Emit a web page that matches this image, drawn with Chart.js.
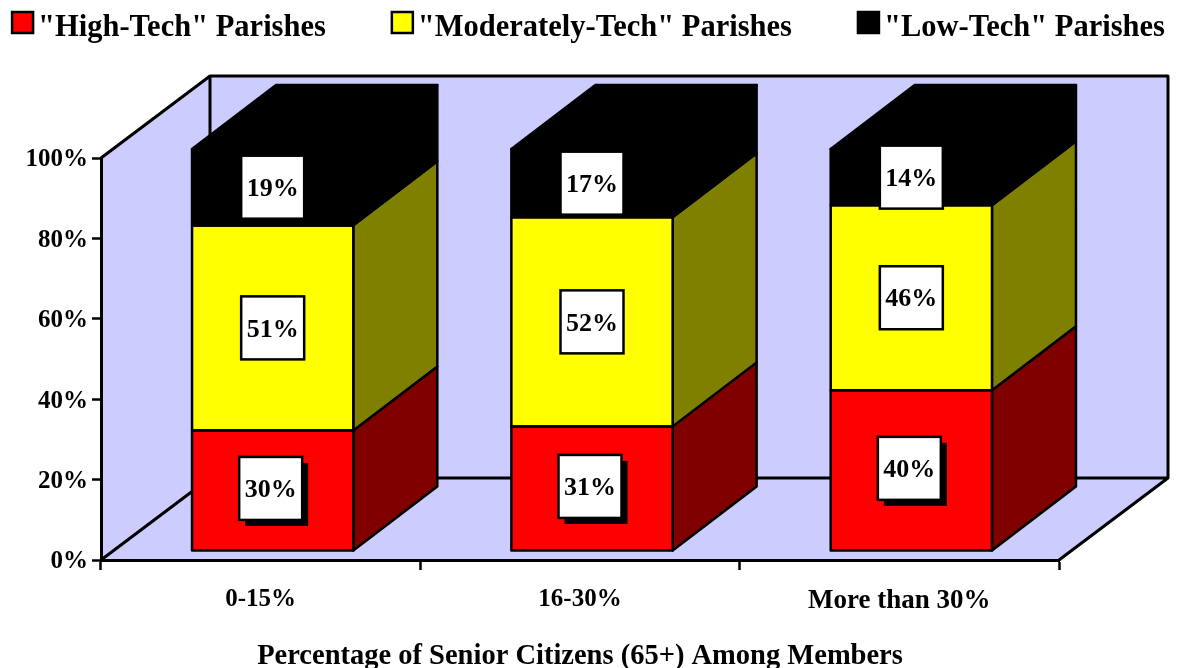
<!DOCTYPE html>
<html>
<head>
<meta charset="utf-8">
<style>html,body{margin:0;padding:0;background:#fff}#wrap{width:1177px;height:668px}</style>
<script src="https://cdn.jsdelivr.net/npm/chart.js@4"></script>
</head>
<body>
<div id="wrap"><canvas id="c" width="1177" height="668"></canvas></div>
<script>
const categories = ['0-15%', '16-30%', 'More than 30%'];
const highTech = [30, 31, 40];
const moderatelyTech = [51, 52, 46];
const lowTech = [19, 17, 14];
const seriesNames = ['"High-Tech" Parishes', '"Moderately-Tech" Parishes', '"Low-Tech" Parishes'];
const yTicks = [0, 20, 40, 60, 80, 100];
const xTitle = 'Percentage of Senior Citizens (65+) Among Members';

const FONT = '"Liberation Serif", serif';
const WALL = '#CCCCFF';
const WALL_DX = 109, WALL_DY = -82;      // depth of the 3D room
const BAR_DX = 84, BAR_DY = -64;         // depth of each 3D bar
const BAR_SHIFT_X = 12, BAR_SHIFT_Y = -9; // bars stand inside the floor
const sideColors = ['#800000', '#808000', '#000000'];

const roomPlugin = {
  id: 'room',
  beforeDraw(chart) {
    const { ctx, chartArea: a } = chart;
    ctx.save();
    ctx.fillStyle = WALL;
    ctx.beginPath();
    ctx.moveTo(a.left, a.top);
    ctx.lineTo(a.left + WALL_DX, a.top + WALL_DY);
    ctx.lineTo(a.right + WALL_DX, a.top + WALL_DY);
    ctx.lineTo(a.right + WALL_DX, a.bottom + WALL_DY);
    ctx.lineTo(a.right, a.bottom);
    ctx.lineTo(a.left, a.bottom);
    ctx.closePath();
    ctx.fill();
    ctx.strokeStyle = '#000';
    ctx.lineWidth = 3;
    ctx.lineJoin = 'round';
    ctx.beginPath();
    ctx.moveTo(a.left, a.top);
    ctx.lineTo(a.left + WALL_DX, a.top + WALL_DY);
    ctx.lineTo(a.right + WALL_DX, a.top + WALL_DY);
    ctx.lineTo(a.right + WALL_DX, a.bottom + WALL_DY);
    ctx.lineTo(a.right, a.bottom);
    ctx.moveTo(a.left + WALL_DX, a.top + WALL_DY);
    ctx.lineTo(a.left + WALL_DX, a.bottom + WALL_DY);
    ctx.lineTo(a.right + WALL_DX, a.bottom + WALL_DY);
    ctx.moveTo(a.left + WALL_DX, a.bottom + WALL_DY);
    ctx.lineTo(a.left, a.bottom);
    ctx.stroke();
    ctx.restore();
    drawLegend(chart);
  },
  beforeDatasetsDraw(chart) {
    const { ctx } = chart;
    ctx.save();
    ctx.translate(BAR_SHIFT_X, BAR_SHIFT_Y);
    ctx.strokeStyle = '#000';
    ctx.lineWidth = 2.5;
    ctx.lineJoin = 'round';
    const n = chart.data.datasets.length;
    chart.data.datasets.forEach((ds, di) => {
      chart.getDatasetMeta(di).data.forEach(el => {
        const r = el.x + el.width / 2, l = el.x - el.width / 2;
        ctx.fillStyle = sideColors[di];
        ctx.beginPath();
        ctx.moveTo(r, el.y);
        ctx.lineTo(r + BAR_DX, el.y + BAR_DY);
        ctx.lineTo(r + BAR_DX, el.base + BAR_DY);
        ctx.lineTo(r, el.base);
        ctx.closePath();
        ctx.fill();
        ctx.stroke();
        if (di === n - 1) {
          ctx.fillStyle = ds.backgroundColor;
          ctx.beginPath();
          ctx.moveTo(l, el.y);
          ctx.lineTo(l + BAR_DX, el.y + BAR_DY);
          ctx.lineTo(r + BAR_DX, el.y + BAR_DY);
          ctx.lineTo(r, el.y);
          ctx.closePath();
          ctx.fill();
          ctx.stroke();
        }
      });
    });
    // keep the translation active while the library draws the bars' front faces
  },
  afterDatasetsDraw(chart) {
    const { ctx } = chart;
    ctx.strokeStyle = '#000';
    ctx.lineWidth = 2.5;
    chart.data.datasets.forEach((ds, di) => {
      chart.getDatasetMeta(di).data.forEach(el => {
        ctx.strokeRect(el.x - el.width / 2, el.y, el.width, el.base - el.y);
      });
    });
    ctx.restore();
    ctx.save();
    ctx.translate(BAR_SHIFT_X, BAR_SHIFT_Y);
    const box = 63;
    chart.data.datasets.forEach((ds, di) => {
      chart.getDatasetMeta(di).data.forEach((el, i) => {
        const hasShadow = di === 0;
        const cx = el.x + (hasShadow ? -2 : 0), cy = (el.y + el.base) / 2 + (hasShadow ? -2 : 0);
        if (hasShadow) {
          ctx.fillStyle = '#000';
          ctx.fillRect(cx - box / 2 + 6, cy - box / 2 + 6, box, box);
        }
        ctx.fillStyle = '#fff';
        ctx.strokeStyle = '#000';
        ctx.lineWidth = 2.5;
        ctx.fillRect(cx - box / 2, cy - box / 2, box, box);
        ctx.strokeRect(cx - box / 2, cy - box / 2, box, box);
        ctx.fillStyle = '#000';
        ctx.font = 'bold 26px ' + FONT;
        ctx.textAlign = 'center';
        ctx.textBaseline = 'middle';
        ctx.fillText(ds.data[i] + '%', cx, cy + 2);
      });
    });
    ctx.restore();
  }
};

function drawLegend(chart) {
  const { ctx } = chart;
  ctx.save();
  ctx.font = 'bold 30.5px ' + FONT;
  ctx.textAlign = 'left';
  ctx.textBaseline = 'middle';
  const size = 21, gapText = 5, gapItem = 66;
  const widths = chart.data.datasets.map(d => ctx.measureText(d.label).width);
  const total = widths.reduce((s, w) => s + w + size + gapText, 0) + gapItem * (widths.length - 1);
  let x = (chart.width - total) / 2;
  const boxY = 22.5, textY = 28;
  chart.data.datasets.forEach((d, i) => {
    ctx.fillStyle = d.backgroundColor;
    ctx.strokeStyle = '#000';
    ctx.lineWidth = 2.5;
    ctx.fillRect(x, boxY - size / 2, size, size);
    ctx.strokeRect(x, boxY - size / 2, size, size);
    ctx.fillStyle = '#000';
    ctx.fillText(d.label, x + size + gapText, textY);
    x += size + gapText + widths[i] + gapItem;
  });
  ctx.restore();
}

new Chart(document.getElementById('c'), {
  type: 'bar',
  data: {
    labels: categories,
    datasets: [
      { label: seriesNames[0], data: highTech, backgroundColor: '#FF0000' },
      { label: seriesNames[1], data: moderatelyTech, backgroundColor: '#FFFF00' },
      { label: seriesNames[2], data: lowTech, backgroundColor: '#000000' }
    ].map(d => Object.assign(d, { borderWidth: 0, barPercentage: 0.505, categoryPercentage: 1 }))
  },
  plugins: [roomPlugin],
  options: {
    responsive: false,
    animation: false,
    layout: { padding: { left: 0, top: 158, right: 118, bottom: 0 } },
    plugins: { legend: { display: false }, title: { display: false }, tooltip: { enabled: false } },
    scales: {
      x: {
        stacked: true,
        afterFit(s) { s.height = 108; },
        grid: { offset: true, drawOnChartArea: false, drawTicks: true, tickLength: 10, tickColor: '#000', tickWidth: 2.5 },
        border: { display: true, color: '#000', width: 3 },
        ticks: { color: '#000', font: c => ({ family: FONT, size: c.index === 2 ? 27 : 25, weight: 'bold' }), padding: 15, maxRotation: 0 },
        title: { display: true, text: xTitle, color: '#000', font: { family: FONT, size: 28.5, weight: 'bold' }, padding: { top: 0, bottom: -6 } }
      },
      y: {
        stacked: true,
        min: 0,
        max: 100,
        afterFit(s) { s.width = 101; },
        afterBuildTicks(s) { s.ticks = yTicks.map(v => ({ value: v })); },
        grid: { drawOnChartArea: false, drawTicks: true, tickLength: 9, tickColor: '#000', tickWidth: 2.5 },
        border: { display: true, color: '#000', width: 3 },
        ticks: { color: '#000', font: { family: FONT, size: 25, weight: 'bold' }, padding: 4, labelOffset: 2, callback: v => v + '%' }
      }
    }
  }
});
</script>
</body>
</html>
